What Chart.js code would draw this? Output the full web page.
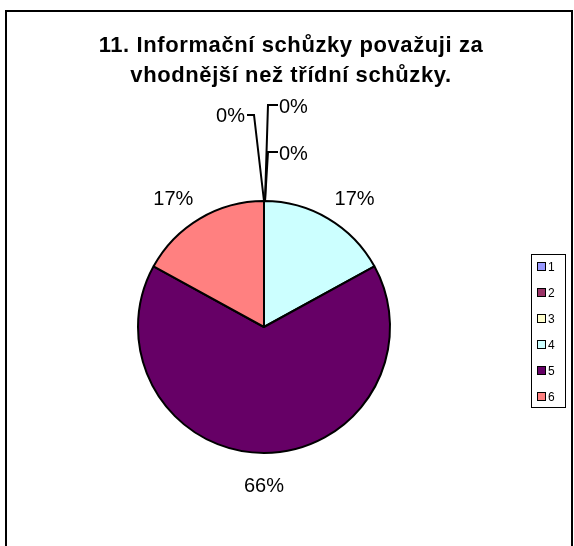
<!DOCTYPE html>
<html>
<head>
<meta charset="utf-8">
<script src="https://cdn.jsdelivr.net/npm/chart.js@4"></script>
<style>
  html, body { margin: 0; padding: 0; background: #fff; }
  #wrap { width: 574px; height: 546px; position: relative; }
</style>
</head>
<body>
<div id="wrap"><canvas id="pie"></canvas></div>
<script>
// chart data
const titleLines = ["11. Informační schůzky považuji za", "vhodnější než třídní schůzky."];
const categories = ["1", "2", "3", "4", "5", "6"];
const shares = [0, 0, 0, 17, 66, 17]; // percent, as printed on the slices
const sliceColors = ["#9999FF", "#993366", "#FFFFCC", "#CCFFFF", "#660066", "#FF8080"];

const FONT = "'Liberation Sans', Arial, sans-serif";

// title, frame, labels and legend drawn on top of the pie
const decorPlugin = {
  id: "decor",
  afterDraw(chart) {
    const ctx = chart.ctx;
    const meta = chart.getDatasetMeta(0);
    const total = shares.reduce((a, b) => a + b, 0);

    ctx.save();
    // outer frame
    ctx.strokeStyle = "#000";
    ctx.lineWidth = 2;
    ctx.strokeRect(6, 11, 566, 545);

    // title
    ctx.fillStyle = "#000";
    ctx.font = "bold 22px " + FONT;
    ctx.letterSpacing = "0.6px";
    ctx.textAlign = "center";
    ctx.textBaseline = "alphabetic";
    ctx.fillText(titleLines[0], 291, 52);
    ctx.fillText(titleLines[1], 291, 82);
    ctx.letterSpacing = "0px";

    // slice labels
    ctx.font = "20px " + FONT;
    ctx.textBaseline = "middle";
    ctx.lineWidth = 2;
    let zeroIdx = 0;
    meta.data.forEach((arc, i) => {
      const pct = Math.round(shares[i] / total * 100) + "%";
      const cx = arc.x, cy = arc.y, r = arc.outerRadius;
      if (shares[i] === 0) {
        // leader-line labels stacked above the top of the pie
        const topX = cx, topY = cy - r;
        ctx.beginPath();
        if (zeroIdx === 0) {
          ctx.moveTo(topX, topY);
          ctx.lineTo(cx - 10, 115);
          ctx.lineTo(cx - 17, 115);
          ctx.stroke();
          ctx.textAlign = "right";
          ctx.fillText(pct, cx - 19, 116);
        } else {
          const y = zeroIdx === 1 ? 105 : 152;
          ctx.moveTo(topX + 1, topY);
          ctx.lineTo(cx + 4, y);
          ctx.lineTo(cx + 14, y);
          ctx.stroke();
          ctx.textAlign = "left";
          ctx.fillText(pct, cx + 15, y + 2);
        }
        zeroIdx++;
        return;
      }
      const mid = (arc.startAngle + arc.endAngle) / 2;
      const dx = Math.cos(mid), dy = Math.sin(mid);
      const w = ctx.measureText(pct).width;
      ctx.textAlign = "center";
      ctx.fillText(pct, cx + dx * (r + 28) + dx * w * 0.6, cy + dy * (r + 28) + 5);
    });

    // legend
    ctx.lineWidth = 1;
    ctx.strokeStyle = "#000";
    ctx.strokeRect(531.5, 254.5, 34, 153);
    ctx.font = "12px " + FONT;
    ctx.textAlign = "left";
    categories.forEach((c, i) => {
      const y = 267 + i * 26;
      ctx.fillStyle = sliceColors[i];
      ctx.fillRect(538, y - 4, 7, 7);
      ctx.strokeRect(537.5, y - 4.5, 8, 8);
      ctx.fillStyle = "#000";
      ctx.fillText(c, 548, y + 1);
    });
    ctx.restore();
  }
};

new Chart(document.getElementById("pie"), {
  type: "pie",
  data: {
    labels: categories,
    datasets: [{
      data: shares,
      backgroundColor: sliceColors,
      borderColor: "#000",
      borderWidth: 2
    }]
  },
  options: {
    responsive: true,
    maintainAspectRatio: false,
    animation: false,
    layout: { padding: { left: 137, right: 183, top: 200, bottom: 92 } },
    plugins: {
      legend: { display: false },
      title: { display: false },
      tooltip: { enabled: false }
    }
  },
  plugins: [decorPlugin]
});
</script>
</body>
</html>
